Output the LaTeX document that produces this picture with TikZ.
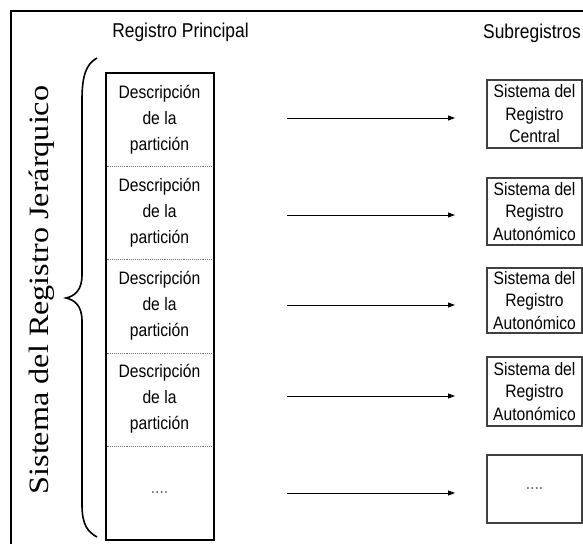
\documentclass[tikz,border=0pt]{standalone}
\usepackage{fontspec}
\setmainfont{Liberation Sans}
\newfontfamily\narrowsans[FakeStretch=0.87]{Liberation Sans}
\newfontfamily\wideserif[FakeStretch=1.15]{Liberation Serif}
\usetikzlibrary{arrows.meta}
\begin{document}
\begin{tikzpicture}[x=1pt,y=-1pt,
  header/.style={font=\narrowsans\fontsize{20}{24}\selectfont, inner sep=0},
  partext/.style={font=\narrowsans\fontsize{18}{26}\selectfont, align=center, inner sep=0},
  subbox/.style={draw=black!75, line width=1.2pt, minimum width=95, inner sep=0,
    font=\narrowsans\fontsize{18}{22.5}\selectfont, align=center},
  sepline/.style={draw=black!55, line width=0.9pt, densely dotted},
  link/.style={line width=0.9pt, -{Triangle[length=7pt,width=5pt]}}]
\useasboundingbox (0,0) rectangle (583,544);
% outer frame (only top and left visible)
\draw[line width=1.8pt] (583,11) -- (11,11) -- (11,544);
% headers
\node[header] (hmain) at (180.5,32) {Registro Principal};
\node[header] (hsub) at (532,33) {Subregistros};
% main register
\node[draw, line width=2.2pt, minimum width=108, minimum height=467, inner sep=0, anchor=north west] (main) at (105,72) {};
\draw[sepline] (106.5,166) -- (211.5,166);
\draw[sepline] (106.5,259) -- (211.5,259);
\draw[sepline] (106.5,353) -- (211.5,353);
\draw[sepline] (106.5,446) -- (211.5,446);
\node[partext] (p1) at (159.5,120) {Descripción\\de la\\partición};
\node[partext] (p2) at (159.5,213) {Descripción\\de la\\partición};
\node[partext] (p3) at (159.5,306) {Descripción\\de la\\partición};
\node[partext] (p4) at (159.5,399) {Descripción\\de la\\partición};
\node[partext, text=black!60] (p5) at (159.5,493) {....};
% subregisters
\node[subbox, minimum height=68] (s1) at (534.5,114) {Sistema del\\Registro\\Central};
\node[subbox, minimum height=67] (s2) at (534.5,211.5) {Sistema del\\Registro\\Autonómico};
\node[subbox, minimum height=65] (s3) at (534.5,300.5) {Sistema del\\Registro\\Autonómico};
\node[subbox, minimum height=69] (s4) at (534.5,391.5) {Sistema del\\Registro\\Autonómico};
\node[subbox, minimum height=68, text=black!60] (s5) at (534.5,489) {....};
% arrows
\foreach \i/\y in {1/118,2/215,3/305,4/396,5/493}{
  \coordinate (a\i) at (287,\y);
  \coordinate (b\i) at (455,\y);
  \draw[link] (a\i) -- (b\i);
}
% brace
\draw[line width=1.6pt] (97,58) .. controls (86,64) and (82,76) .. (82,100) -- (82,275)
  .. controls (82,290) and (75,296) .. (66,298)
  .. controls (75,300) and (82,306) .. (82,321) -- (82,505)
  .. controls (82,525) and (88,532) .. (97,537);
% vertical title
\node[rotate=90, font=\wideserif\fontsize{28}{32}\selectfont, inner sep=0] (title) at (42,290) {Sistema del Registro Jerárquico};
\end{tikzpicture}
\end{document}
